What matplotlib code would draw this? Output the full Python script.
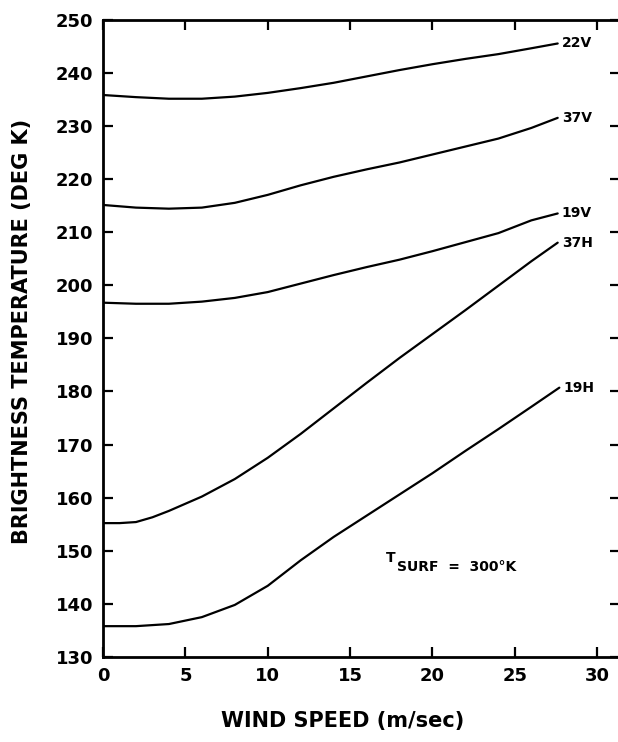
import matplotlib.pyplot as plt

plt.rcParams['font.family'] = ['DejaVu Sans']

# wind speed (m/sec) and brightness temperature (deg K)
ws_22v = [0, 2, 4, 6, 8, 10, 12, 14, 16, 18, 20, 22, 24, 26, 27.6]
tb_22v = [235.8, 235.4, 235.1, 235.1, 235.5, 236.2, 237.1, 238.1, 239.3, 240.5, 241.6, 242.6, 243.5, 244.6, 245.5]

ws_37v = [0, 2, 4, 6, 8, 10, 12, 14, 16, 18, 20, 22, 24, 26, 27.6]
tb_37v = [215.1, 214.6, 214.4, 214.6, 215.5, 217.0, 218.8, 220.4, 221.8, 223.1, 224.6, 226.1, 227.6, 229.6, 231.5]

ws_19v = [0, 2, 4, 6, 8, 10, 12, 14, 16, 18, 20, 22, 24, 26, 27.6]
tb_19v = [196.7, 196.5, 196.5, 196.9, 197.6, 198.7, 200.3, 201.9, 203.4, 204.8, 206.4, 208.1, 209.8, 212.2, 213.5]

ws_37h = [0, 1, 2, 3, 4, 6, 8, 10, 12, 14, 16, 18, 20, 22, 24, 26, 27.6]
tb_37h = [155.2, 155.2, 155.4, 156.3, 157.5, 160.2, 163.5, 167.5, 172.0, 176.8, 181.6, 186.3, 190.8, 195.3, 199.9, 204.5, 208.0]

ws_19h = [0, 2, 4, 6, 8, 10, 12, 14, 16, 18, 20, 22, 24, 26, 27.7]
tb_19h = [135.8, 135.8, 136.2, 137.5, 139.8, 143.4, 148.2, 152.6, 156.6, 160.6, 164.6, 168.8, 172.9, 177.1, 180.7]

curves = [
    (ws_22v, tb_22v, '22V'),
    (ws_37v, tb_37v, '37V'),
    (ws_19v, tb_19v, '19V'),
    (ws_37h, tb_37h, '37H'),
    (ws_19h, tb_19h, '19H'),
]

fig = plt.figure(figsize=(6.18, 7.42), dpi=100)
ax = fig.add_axes([0.1667, 0.1146, 0.837, 0.859])

for ws, tb, name in curves:
    ax.plot(ws, tb, color='black', lw=1.6, solid_capstyle='round')
    ax.text(ws[-1] + 0.25, tb[-1], name, fontsize=10, fontweight='bold',
            ha='left', va='center')

# T_SURF note, big T raised above the subscript
ax.text(17.2, 148.6, 'T', fontsize=10, fontweight='bold', ha='left', va='center')
ax.text(17.85, 146.9, 'SURF  =  300°K', fontsize=10, fontweight='bold',
        ha='left', va='center')

ax.set_xlim(0, 31.4)
ax.set_ylim(130, 250)
ax.set_xticks(range(0, 31, 5))
ax.set_yticks(range(130, 251, 10))
ax.tick_params(direction='in', length=7, width=1.6, top=True, right=True,
               labelsize=13, pad=7)
for lab in ax.get_xticklabels() + ax.get_yticklabels():
    lab.set_fontweight('bold')
for sp in ax.spines.values():
    sp.set_linewidth(2.0)
ax.spines['right'].set_visible(False)

fig.text(0.555, 0.028, 'WIND SPEED (m/sec)', fontsize=15, fontweight='bold',
         ha='center', va='center')
fig.text(0.036, 0.553, 'BRIGHTNESS TEMPERATURE (DEG K)', fontsize=15, fontweight='bold',
         ha='center', va='center', rotation=90)

fig.savefig('out.png', dpi=100, facecolor='white')
